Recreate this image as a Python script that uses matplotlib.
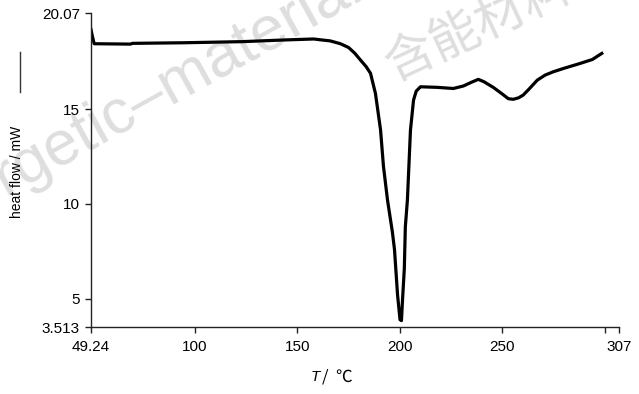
import matplotlib.pyplot as plt
from matplotlib.lines import Line2D

# DSC curve
temp = [49.24, 49.8, 50.8, 68.5, 69.5, 94.0, 123.0, 144.0, 158.0, 161.0,
        166.0, 171.0, 175.0, 178.0, 180.8, 183.5, 185.7, 188.1, 190.6, 192.0,
        194.0, 196.4, 197.4, 198.9, 200.1, 200.8, 201.3, 202.2, 202.7, 203.7,
        205.2, 206.7, 208.0, 210.1, 218.2, 226.1, 231.0, 235.0, 238.3, 241.0,
        245.6, 250.0, 253.0, 255.4, 258.0, 260.2, 263.0, 267.1, 271.0, 274.9,
        280.0, 288.0, 294.0, 298.6]
heat = [19.2, 18.9, 18.45, 18.43, 18.47, 18.5, 18.56, 18.65, 18.7, 18.66,
        18.6, 18.45, 18.25, 17.95, 17.59, 17.25, 16.89, 15.83, 13.9, 12.0,
        10.2, 8.5, 7.6, 5.2, 3.9, 3.85, 4.9, 6.6, 8.8, 10.2,
        13.9, 15.48, 15.95, 16.18, 16.15, 16.09, 16.22, 16.42, 16.57, 16.45,
        16.15, 15.8, 15.55, 15.52, 15.6, 15.74, 16.05, 16.53, 16.8, 16.97,
        17.15, 17.41, 17.62, 17.94]

xticks = [49.24, 100, 150, 200, 250, 300, 307]
xlabels = ['49.24', '100', '150', '200', '250', '', '307']
yticks = [3.513, 5, 10, 15, 20.07]
ylabels = ['3.513', '5', '10', '15', '20.07']

plt.rcParams['font.family'] = ['Liberation Sans', 'DejaVu Sans']

fig = plt.figure(figsize=(6.39, 3.94), dpi=100)
ax = fig.add_axes([0.1424, 0.170, 0.9687 - 0.1424, 0.967 - 0.170])
ax.patch.set_facecolor('none')

ax.plot(temp, heat, color='black', lw=2.3, solid_joinstyle='round')

ax.set_xlim(49.24, 307)
ax.set_ylim(3.513, 20.07)
ax.set_xticks(xticks)
ax.set_xticklabels(xlabels)
ax.set_yticks(yticks)
ax.set_yticklabels(ylabels)
ax.tick_params(direction='out', length=4, width=1, labelsize=11, color='#222222')
ax.tick_params(axis='x', pad=5)
ax.tick_params(axis='y', pad=4)
for s in ['top', 'right']:
    ax.spines[s].set_visible(False)
for s in ['left', 'bottom']:
    ax.spines[s].set_linewidth(1)
    ax.spines[s].set_color('#222222')

# axis labels
fig.text(17/639, 1 - 172/394, 'heat flow / mW', rotation=90,
         ha='center', va='center', fontsize=10)
fig.add_artist(Line2D([20/639, 20/639], [1 - 52/394, 1 - 92/394],
                      color='#333333', lw=1))
fig.text(315/639, 1 - 377/394, 'T', style='italic', ha='center', va='center', fontsize=11)
fig.text(322/639, 1 - 377/394, '/  \u2103', ha='left', va='center', fontsize=12,
         family=['Noto Sans CJK SC', 'DejaVu Sans'])

# watermark (cut by the edges, as in the source)
fig.text(146/639, 1 - 100/394, 'energetic\u2013materials', rotation=29,
         rotation_mode='anchor', ha='center', va='center', fontsize=45,
         color='#dedede', zorder=-1)
fig.text(478/639, 1 - 26/394, '\u542b\u80fd\u6750\u6599', rotation=25,
         rotation_mode='anchor', ha='center', va='center', fontsize=36,
         color='#dedede', zorder=-1, weight='light',
         family=['Noto Sans CJK SC', 'DejaVu Sans'])

fig.savefig('out.png', dpi=100)
